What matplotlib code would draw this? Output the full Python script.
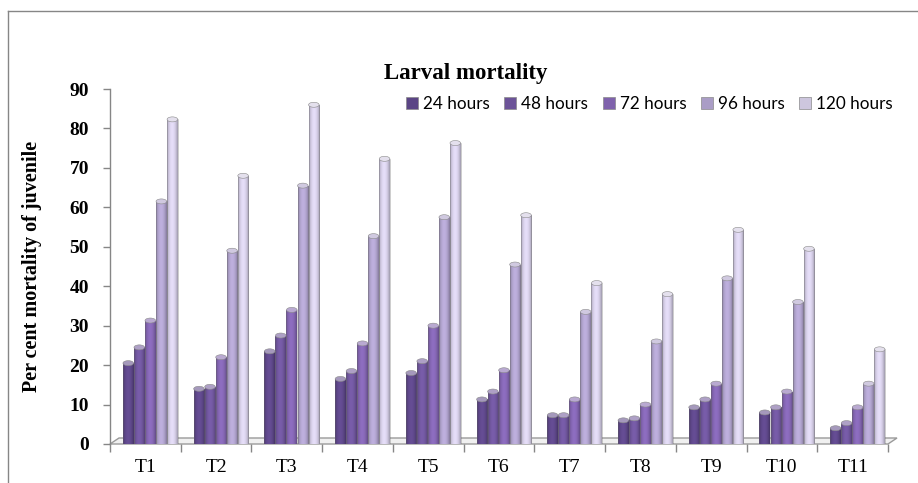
import numpy as np
import matplotlib
matplotlib.use("Agg")
import matplotlib.pyplot as plt
from matplotlib.patches import Patch, Ellipse, Polygon
from matplotlib.lines import Line2D
import matplotlib.colors as mcolors

# ---------------- data ----------------
categories = ["T1", "T2", "T3", "T4", "T5", "T6", "T7", "T8", "T9", "T10", "T11"]
series_names = ["24 hours", "48 hours", "72 hours", "96 hours", "120 hours"]
h24 = [20.5, 14.0, 23.5, 16.5, 18.0, 11.3, 7.3, 6.0, 9.3, 8.0, 4.0]
h48 = [24.5, 14.5, 27.5, 18.5, 21.0, 13.3, 7.3, 6.5, 11.3, 9.3, 5.3]
h72 = [31.3, 22.0, 34.0, 25.5, 30.0, 18.7, 11.3, 10.0, 15.3, 13.3, 9.3]
h96 = [61.5, 49.0, 65.5, 52.7, 57.5, 45.5, 33.5, 26.0, 42.0, 36.0, 15.3]
h120 = [82.3, 68.0, 86.0, 72.3, 76.3, 58.0, 40.8, 38.0, 54.3, 49.5, 24.0]
series = [h24, h48, h72, h96, h120]
yticks = [0, 10, 20, 30, 40, 50, 60, 70, 80, 90]

colors = ["#5b4585", "#6c5398", "#7f62ac", "#aa9dc6", "#cdc6de"]

W, H = 918, 483
fig = plt.figure(figsize=(W / 100, H / 100), dpi=100)

# axes placement in pixels
ax_l, ax_r, ax_b, ax_t = 110, 888, 444, 89
ax = fig.add_axes([ax_l / W, 1 - ax_b / H, (ax_r - ax_l) / W, (ax_b - ax_t) / H])
ax.set_xlim(-0.5, len(categories) - 0.5)
ax.set_ylim(0, 90)

px_x = (len(categories)) / (ax_r - ax_l)  # data units per pixel (x)
px_y = 90 / (ax_b - ax_t)                  # data units per pixel (y)

# floor slab
dx, dy = 9 * px_x, 6 * px_y
floor = Polygon([(-0.5, 0), (len(categories) - 0.5, 0),
                 (len(categories) - 0.5 + dx, dy), (-0.5 + dx, dy)],
                closed=True, facecolor="#f0f0f0", edgecolor="#9a9a9a",
                lw=1.0, clip_on=False, zorder=1)
ax.add_patch(floor)

bw = 0.156
group_shift = 0.07
x = np.arange(len(categories))

# horizontal cylinder shading profile
t = np.linspace(0, 1, 40)
prof = 0.80 + 0.32 * np.sin(np.pi * np.clip(t * 1.05, 0, 1)) ** 0.7

for i, (vals, col) in enumerate(zip(series, colors)):
    base = np.array(mcolors.to_rgb(col))
    xs = x + group_shift + (i - 2) * bw
    bars = ax.bar(xs, vals, width=bw * 0.96, color=col, edgecolor="none",
                  zorder=3, label=series_names[i])
    img = np.clip(base[None, :] * prof[:, None], 0, 1)[None, :, :]
    for b, v in zip(bars, vals):
        x0 = b.get_x()
        w = b.get_width()
        im = ax.imshow(img, extent=(x0, x0 + w, 0, v), aspect="auto",
                       interpolation="bilinear", zorder=3.1)
        im.set_clip_path(b)
        ax.plot([x0, x0], [0, v], color="#6e6e6e", lw=0.4, alpha=0.6, zorder=3.2)
        ax.plot([x0 + w, x0 + w], [0, v], color="#6e6e6e", lw=0.4, alpha=0.6, zorder=3.2)
        cap_col = np.clip(base * 0.55 + 0.45, 0, 1)
        ax.add_patch(Ellipse((x0 + w / 2, v), w, 5 * px_y, facecolor=cap_col,
                             edgecolor="#8a8a8a", lw=0.4, zorder=3.3))

# axes styling
for s in ["top", "right", "bottom"]:
    ax.spines[s].set_visible(False)
ax.spines["left"].set_color("#868686")
ax.spines["left"].set_linewidth(1.0)
ax.set_yticks(yticks)
ax.set_yticklabels([str(v) for v in yticks], fontfamily="Liberation Serif",
                   fontweight="bold", fontsize=14)
ax.tick_params(axis="y", length=5, color="#868686", width=1, pad=10)

ax.set_xticks(x)
ax.set_xticklabels(categories, fontfamily="Liberation Serif", fontsize=14)
ax.set_xticks(np.arange(-0.5, len(categories)), minor=True)
ax.tick_params(axis="x", which="major", length=0, pad=11)
ax.tick_params(axis="x", which="minor", length=6, color="#868686", width=1)
ax.xaxis.set_ticks_position("bottom")

ax.set_ylabel("Per cent mortality of juvenile", fontfamily="Liberation Serif",
              fontweight="bold", fontsize=14.5, labelpad=20)
ax.patch.set_alpha(0)

fig.text(466 / W, 1 - 74 / H, "Larval mortality", ha="center", va="center",
         fontfamily="Liberation Serif", fontweight="bold", fontsize=16.5)

handles = [Patch(facecolor=c, edgecolor="#8a8a8a", lw=0.5) for c in colors]
leg = fig.legend(handles, series_names, loc="center left",
                 bbox_to_anchor=(406 / W, 1 - 104 / H), ncol=5, frameon=False,
                 prop={"family": "Lato", "size": 12.3}, handlelength=0.7,
                 handleheight=0.7, handletextpad=0.3, columnspacing=0.85,
                 borderaxespad=0, borderpad=0)

# chart area border (top and left visible)
fig.add_artist(Line2D([8 / W, 1], [1 - 11 / H, 1 - 11 / H], color="#868686",
                      lw=1.0, transform=fig.transFigure))
fig.add_artist(Line2D([8 / W, 8 / W], [0, 1 - 11 / H], color="#868686",
                      lw=1.0, transform=fig.transFigure))

fig.savefig("out.png", dpi=100)
